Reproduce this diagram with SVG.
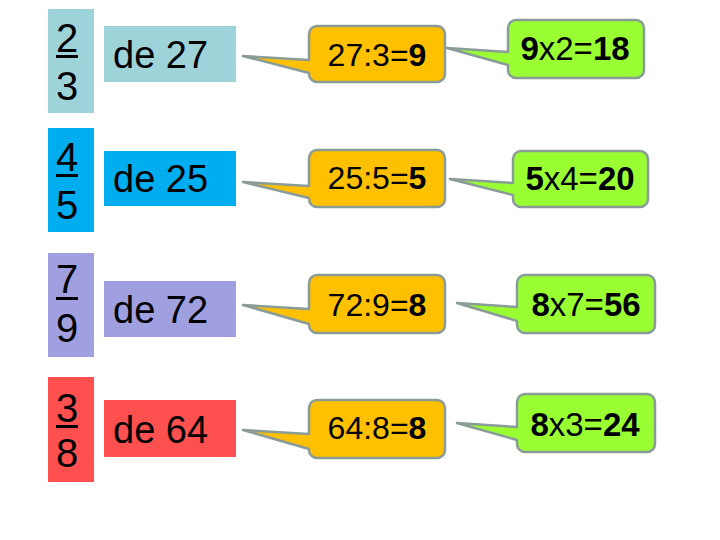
<svg xmlns="http://www.w3.org/2000/svg" width="720" height="540" viewBox="0 0 720 540">
<style>
.frac{font-family:"Liberation Sans",Arial,sans-serif;font-size:40px;fill:#000}
.de{font-family:"Liberation Sans",Arial,sans-serif;font-size:38px;fill:#000}
.ul{fill:#000}
.cy{fill:#ffc000;stroke:#8a9c98;stroke-width:2.5;stroke-linejoin:round}
.cg{fill:#99ff33;stroke:#8a9c98;stroke-width:2.5;stroke-linejoin:round}
.ct{font-family:"Liberation Sans",Arial,sans-serif;fill:#000;text-anchor:middle}
.ty{font-size:32px}
.tg{font-size:33px}
.b{font-weight:bold}
.teal{fill:#9fd3da}.blue{fill:#00adef}.purple{fill:#a0a0e0}.red{fill:#ff5050}
</style>
<rect width="720" height="540" fill="#fff"/>
<!-- Row 1 -->
<g id="frac1"><rect class="teal" x="48" y="9" width="46" height="104"/><text class="frac" x="56" y="52">2</text><rect class="ul" x="56" y="55" width="22" height="3"/><text class="frac" x="56" y="100">3</text></g>
<g id="de1"><rect class="teal" x="104" y="26" width="132" height="56"/><text class="de" x="113" y="68">de 27</text></g>
<!-- Row 2 -->
<g id="frac2"><rect class="blue" x="48" y="128" width="46" height="104"/><text class="frac" x="56" y="171">4</text><rect class="ul" x="56" y="174" width="22" height="3"/><text class="frac" x="56" y="219">5</text></g>
<g id="de2"><rect class="blue" x="104" y="151" width="132" height="55"/><text class="de" x="113" y="192">de 25</text></g>
<!-- Row 3 -->
<g id="frac3"><rect class="purple" x="48" y="253" width="46" height="104"/><text class="frac" x="56" y="293">7</text><rect class="ul" x="56" y="297" width="22" height="3"/><text class="frac" x="56" y="342">9</text></g>
<g id="de3"><rect class="purple" x="104" y="281" width="132" height="56"/><text class="de" x="113" y="323">de 72</text></g>
<!-- Row 4 -->
<g id="frac4"><rect class="red" x="48" y="377" width="46" height="105"/><text class="frac" x="56" y="422">3</text><rect class="ul" x="56" y="425" width="22" height="3"/><text class="frac" x="56" y="467">8</text></g>
<g id="de4"><rect class="red" x="104" y="400" width="132" height="57"/><text class="de" x="113" y="443">de 64</text></g>

<!-- Callouts: yellow -->
<g id="div1"><path class="cy" d="M317,26 H437 A8,8 0 0 1 445,34 V74 A8,8 0 0 1 437,82 H317 A8,8 0 0 1 309,74 V73 L243,56 L309,60 V34 A8,8 0 0 1 317,26 Z"/><text class="ct ty" x="377" y="66">27:3=<tspan class="b">9</tspan></text></g>
<g id="div2"><path class="cy" d="M317,150 H437 A8,8 0 0 1 445,158 V199 A8,8 0 0 1 437,207 H317 A8,8 0 0 1 309,199 V198 L243,182 L309,186 V158 A8,8 0 0 1 317,150 Z"/><text class="ct ty" x="377" y="189">25:5=<tspan class="b">5</tspan></text></g>
<g id="div3"><path class="cy" d="M317,275 H437 A8,8 0 0 1 445,283 V325 A8,8 0 0 1 437,333 H317 A8,8 0 0 1 309,325 V324 L243,305 L309,309 V283 A8,8 0 0 1 317,275 Z"/><text class="ct ty" x="377" y="316">72:9=<tspan class="b">8</tspan></text></g>
<g id="div4"><path class="cy" d="M317,400 H437 A8,8 0 0 1 445,408 V450 A8,8 0 0 1 437,458 H317 A8,8 0 0 1 309,450 V449 L243,430 L309,434 V408 A8,8 0 0 1 317,400 Z"/><text class="ct ty" x="377" y="439">64:8=<tspan class="b">8</tspan></text></g>

<!-- Callouts: green -->
<g id="mul1"><path class="cg" d="M516,20 H636 A8,8 0 0 1 644,28 V70 A8,8 0 0 1 636,78 H516 A8,8 0 0 1 508,70 V65 L447,48 L508,52 V28 A8,8 0 0 1 516,20 Z"/><text class="ct tg" x="575" y="60"><tspan class="b">9</tspan>x2=<tspan class="b">18</tspan></text></g>
<g id="mul2"><path class="cg" d="M521,151 H640 A8,8 0 0 1 648,159 V199 A8,8 0 0 1 640,207 H521 A8,8 0 0 1 513,199 V195 L450,179 L513,183 V159 A8,8 0 0 1 521,151 Z"/><text class="ct tg" x="580" y="190"><tspan class="b">5</tspan>x4=<tspan class="b">20</tspan></text></g>
<g id="mul3"><path class="cg" d="M525,275 H647 A8,8 0 0 1 655,283 V325 A8,8 0 0 1 647,333 H525 A8,8 0 0 1 517,325 V321 L457,303 L517,307 V283 A8,8 0 0 1 525,275 Z"/><text class="ct tg" x="586" y="316"><tspan class="b">8</tspan>x7=<tspan class="b">56</tspan></text></g>
<g id="mul4"><path class="cg" d="M525,394 H647 A8,8 0 0 1 655,402 V444 A8,8 0 0 1 647,452 H525 A8,8 0 0 1 517,444 V440 L457,423 L517,427 V402 A8,8 0 0 1 525,394 Z"/><text class="ct tg" x="585" y="436"><tspan class="b">8</tspan>x3=<tspan class="b">24</tspan></text></g>
<g id="connectors"></g>
</svg>
